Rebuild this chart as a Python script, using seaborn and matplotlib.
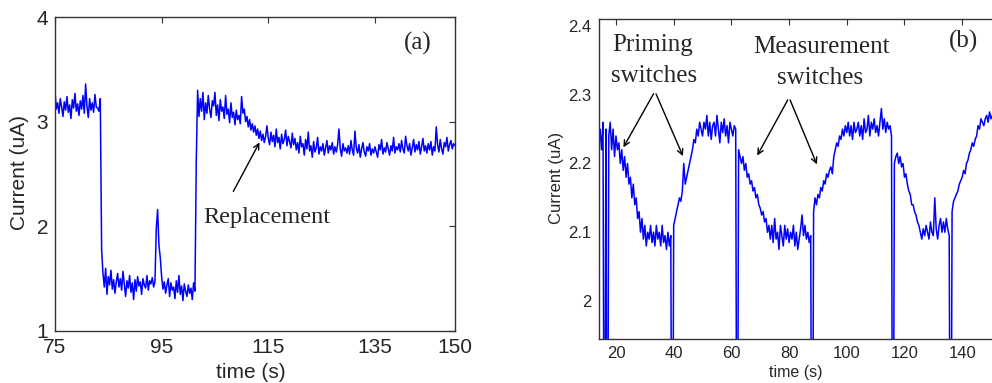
import numpy as np
import pandas as pd
import matplotlib
matplotlib.use("Agg")
import matplotlib.pyplot as plt
import seaborn as sns

# ---------------- data ----------------
# panel (a): time 75..150 s, sampled every 0.25 s
time_a = np.arange(75.0, 150.0 + 1e-9, 0.25)
current_a = [
    3.30, 3.12, 3.18, 3.08, 3.22, 3.14, 3.05, 3.19, 3.11, 3.24, 3.09, 3.16, 3.03, 3.21, 3.13, 3.27, 3.10, 3.17, 3.06, 3.20,
    3.12, 3.25, 3.08, 3.36, 3.15, 3.04, 3.22, 3.11, 3.18, 3.09, 3.26, 3.14, 3.13, 3.10, 3.22, 1.78, 1.55, 1.42, 1.60, 1.35,
    1.52, 1.44, 1.58, 1.40, 1.49, 1.36, 1.47, 1.55, 1.42, 1.50, 1.39, 1.57, 1.45, 1.33, 1.48, 1.41, 1.53, 1.37, 1.46, 1.30,
    1.49, 1.38, 1.52, 1.43, 1.47, 1.35, 1.50, 1.44, 1.41, 1.53, 1.39, 1.48, 1.45, 1.51, 1.42, 1.47, 1.98, 2.16, 1.82, 1.70,
    1.52, 1.40, 1.47, 1.36, 1.44, 1.50, 1.33, 1.46, 1.39, 1.42, 1.31, 1.48, 1.37, 1.53, 1.35, 1.43, 1.29, 1.45, 1.38, 1.33,
    1.44, 1.36, 1.41, 1.30, 1.46, 1.38, 2.63, 3.30, 3.05, 3.22, 3.10, 3.28, 3.02, 3.18, 3.08, 3.25, 3.12, 3.04, 3.20, 3.15,
    3.28, 3.06, 3.16, 3.01, 3.21, 3.10, 3.14, 3.03, 3.25, 3.07, 3.12, 2.99, 3.18, 3.04, 3.09, 2.97, 3.11, 3.02, 3.06, 2.98,
    3.24, 3.08, 3.12, 3.00, 3.05, 2.95, 3.02, 2.92, 2.98, 2.90, 2.96, 2.87, 2.93, 2.84, 2.91, 2.82, 2.88, 2.80, 2.86, 2.96,
    2.84, 2.78, 2.90, 2.81, 2.87, 2.76, 2.93, 2.80, 2.85, 2.74, 2.88, 2.79, 2.83, 2.92, 2.77, 2.86, 2.81, 2.75, 2.89, 2.78,
    2.84, 2.73, 2.80, 2.70, 2.86, 2.76, 2.79, 2.68, 2.83, 2.74, 2.90, 2.72, 2.77, 2.66, 2.81, 2.71, 2.75, 2.85, 2.69, 2.76,
    2.72, 2.79, 2.68, 2.75, 2.82, 2.70, 2.77, 2.73, 2.80, 2.69, 2.76, 2.71, 2.78, 2.93, 2.74, 2.67, 2.79, 2.72, 2.75, 2.70,
    2.77, 2.69, 2.82, 2.73, 2.68, 2.91, 2.75, 2.70, 2.78, 2.66, 2.74, 2.80, 2.71, 2.67, 2.76, 2.72, 2.79, 2.68, 2.74, 2.70,
    2.76, 2.71, 2.66, 2.78, 2.73, 2.83, 2.69, 2.75, 2.71, 2.80, 2.74, 2.68, 2.77, 2.72, 2.85, 2.70, 2.76, 2.73, 2.79, 2.71,
    2.82, 2.74, 2.70, 2.86, 2.77, 2.72, 2.79, 2.68, 2.75, 2.83, 2.71, 2.78, 2.73, 2.81, 2.69, 2.76, 2.84, 2.72, 2.77, 2.70,
    2.79, 2.73, 2.81, 2.68, 2.76, 2.72, 2.95, 2.78, 2.71, 2.83, 2.74, 2.69, 2.80, 2.76, 2.85, 2.72, 2.78, 2.82, 2.74, 2.79,
    2.77,
]

# panel (b): time 14..151 s, sampled every 0.5 s (switch drops go far below the axis)
time_b = np.arange(14.0, 151.0 + 1e-9, 0.5)
current_b = [
    2.23, 2.25, 2.22, 2.26, 1.50, 2.25, 1.50, 2.24, 2.26, 2.22, 2.25, 2.21, 2.24, 2.22, 2.23, 2.20, 2.22, 2.19, 2.21, 2.18,
    2.20, 2.17, 2.18, 2.15, 2.17, 2.14, 2.15, 2.12, 2.13, 2.10, 2.12, 2.09, 2.11, 2.08, 2.10, 2.09, 2.11, 2.085, 2.10, 2.08,
    2.11, 2.09, 2.10, 2.08, 2.11, 2.085, 2.095, 2.075, 2.10, 2.08, 2.095, 1.50, 2.11, 2.12, 2.13, 2.14, 2.15, 2.145, 2.16, 2.20,
    2.17, 2.18, 2.19, 2.20, 2.21, 2.22, 2.235, 2.23, 2.25, 2.24, 2.26, 2.25, 2.24, 2.26, 2.25, 2.27, 2.24, 2.26, 2.235, 2.255,
    2.26, 2.24, 2.27, 2.25, 2.23, 2.26, 2.245, 2.265, 2.24, 2.255, 2.23, 2.26, 2.25, 2.24, 2.255, 2.25, 1.50, 2.22, 2.21, 2.20,
    2.21, 2.19, 2.20, 2.18, 2.185, 2.17, 2.175, 2.16, 2.165, 2.15, 2.155, 2.14, 2.135, 2.125, 2.13, 2.115, 2.12, 2.10, 2.11, 2.09,
    2.11, 2.085, 2.12, 2.09, 2.10, 2.075, 2.11, 2.095, 2.08, 2.11, 2.09, 2.105, 2.085, 2.10, 2.09, 2.11, 2.08, 2.10, 2.075, 2.09,
    2.105, 2.125, 2.095, 2.11, 2.09, 2.10, 2.085, 2.095, 1.50, 2.13, 2.15, 2.14, 2.155, 2.15, 2.165, 2.16, 2.175, 2.17, 2.185, 2.18,
    2.19, 2.195, 2.185, 2.21, 2.22, 2.23, 2.225, 2.24, 2.235, 2.25, 2.24, 2.255, 2.245, 2.26, 2.24, 2.255, 2.235, 2.26, 2.245, 2.25,
    2.26, 2.24, 2.255, 2.235, 2.265, 2.245, 2.25, 2.27, 2.24, 2.26, 2.25, 2.265, 2.245, 2.255, 2.24, 2.26, 2.28, 2.25, 2.265, 2.245,
    2.26, 2.25, 2.255, 2.24, 1.50, 2.20, 2.21, 2.215, 2.20, 2.21, 2.195, 2.20, 2.18, 2.185, 2.17, 2.16, 2.155, 2.14, 2.14, 2.13,
    2.125, 2.115, 2.11, 2.10, 2.09, 2.105, 2.095, 2.11, 2.10, 2.09, 2.115, 2.10, 2.095, 2.15, 2.105, 2.09, 2.11, 2.12, 2.10, 2.115,
    2.10, 2.12, 2.105, 2.095, 1.50, 2.13, 2.145, 2.15, 2.155, 2.16, 2.17, 2.175, 2.18, 2.19, 2.185, 2.20, 2.205, 2.215, 2.22, 2.23,
    2.225, 2.235, 2.24, 2.255, 2.25, 2.265, 2.26, 2.255, 2.265, 2.27, 2.26, 2.275, 2.265, 2.27, 2.27,
]

xticks_a = [75, 95, 115, 135, 150]
yticks_a = [1, 2, 3, 4]
xticks_b = [20, 40, 60, 80, 100, 120, 140]
yticks_b = [2.0, 2.1, 2.2, 2.3, 2.4]
yticklabels_b = ["2", "2.1", "2.2", "2.3", "2.4"]

df_a = pd.DataFrame({"time": time_a, "current": current_a})
df_b = pd.DataFrame({"time": time_b, "current": current_b})

# ---------------- style ----------------
sns.set_style("white")
plt.rcParams["font.family"] = ["Liberation Sans", "DejaVu Sans"]
serif = ["Liberation Serif", "DejaVu Serif"]

fig = plt.figure(figsize=(9.92, 3.83), dpi=100)
ax_a = fig.add_axes([0.0554, 0.1358, 0.4032, 0.8198])
ax_b = fig.add_axes([0.6035, 0.1149, 0.4246, 0.8355])

for ax, df in ((ax_a, df_a), (ax_b, df_b)):
    sns.lineplot(data=df, x="time", y="current", ax=ax, color="#0000ff",
                 lw=1.1, estimator=None, errorbar=None)
    for s in ax.spines.values():
        s.set_visible(True)
        s.set_color("#333333")
        s.set_linewidth(1.0)
    ax.tick_params(direction="in", top=True, right=True, length=4,
                   width=0.8, color="#333333")

# panel (a)
ax_a.set_xlim(75, 150)
ax_a.set_ylim(1, 4)
ax_a.set_xticks(xticks_a)
ax_a.set_yticks(yticks_a)
ax_a.tick_params(labelsize=15, pad=5)
ax_a.set_xlabel("time (s)", fontsize=15)
ax_a.set_ylabel("Current (uA)", fontsize=15)
ax_a.xaxis.set_label_coords(0.49, -0.131)
ax_a.xaxis.label.set_va("center")
ax_a.yaxis.set_label_coords(-0.0875, 0.506)
ax_a.yaxis.label.set_va("center")
ax_a.text(143.1, 3.75, "(a)", fontsize=18, family=serif, ha="center", va="center")
ax_a.annotate("", xy=(113.6, 2.825), xytext=(108.2, 2.31),
              arrowprops=dict(arrowstyle="->", color="black", lw=1.0))
ax_a.text(102.9, 2.08, "Replacement", fontsize=17.5, family=serif, ha="left", va="center")

# panel (b)
ax_b.set_xlim(14, 160)
ax_b.set_ylim(1.9447, 2.4102)
ax_b.set_xticks(xticks_b)
ax_b.set_yticks(yticks_b)
ax_b.set_yticklabels(yticklabels_b)
ax_b.tick_params(labelsize=12, pad=5)
ax_b.set_xlabel("time (s)", fontsize=11.5)
ax_b.set_ylabel("Current (uA)", fontsize=12)
ax_b.xaxis.set_label_coords(0.468, -0.106)
ax_b.xaxis.label.set_va("center")
ax_b.yaxis.set_label_coords(-0.099, 0.503)
ax_b.yaxis.label.set_va("center")
ax_b.text(140.3, 2.378, "(b)", fontsize=18, family=serif, ha="center", va="center")
ax_b.text(32.8, 2.373, "Priming", fontsize=18, family=serif, ha="center", va="center")
ax_b.text(33.2, 2.328, "switches", fontsize=18, family=serif, ha="center", va="center")
ax_b.text(91.1, 2.369, "Measurement", fontsize=18, family=serif, ha="center", va="center")
ax_b.text(90.7, 2.324, "switches", fontsize=18, family=serif, ha="center", va="center")
for tip in ((22.1, 2.22), (43.6, 2.207)):
    ax_b.annotate("", xy=tip, xytext=(33.5, 2.305),
                  arrowprops=dict(arrowstyle="->", color="black", lw=1.0))
for tip in ((68.5, 2.208), (90.0, 2.195)):
    ax_b.annotate("", xy=tip, xytext=(80.0, 2.296),
                  arrowprops=dict(arrowstyle="->", color="black", lw=1.0))

fig.savefig("out.png", dpi=100)
